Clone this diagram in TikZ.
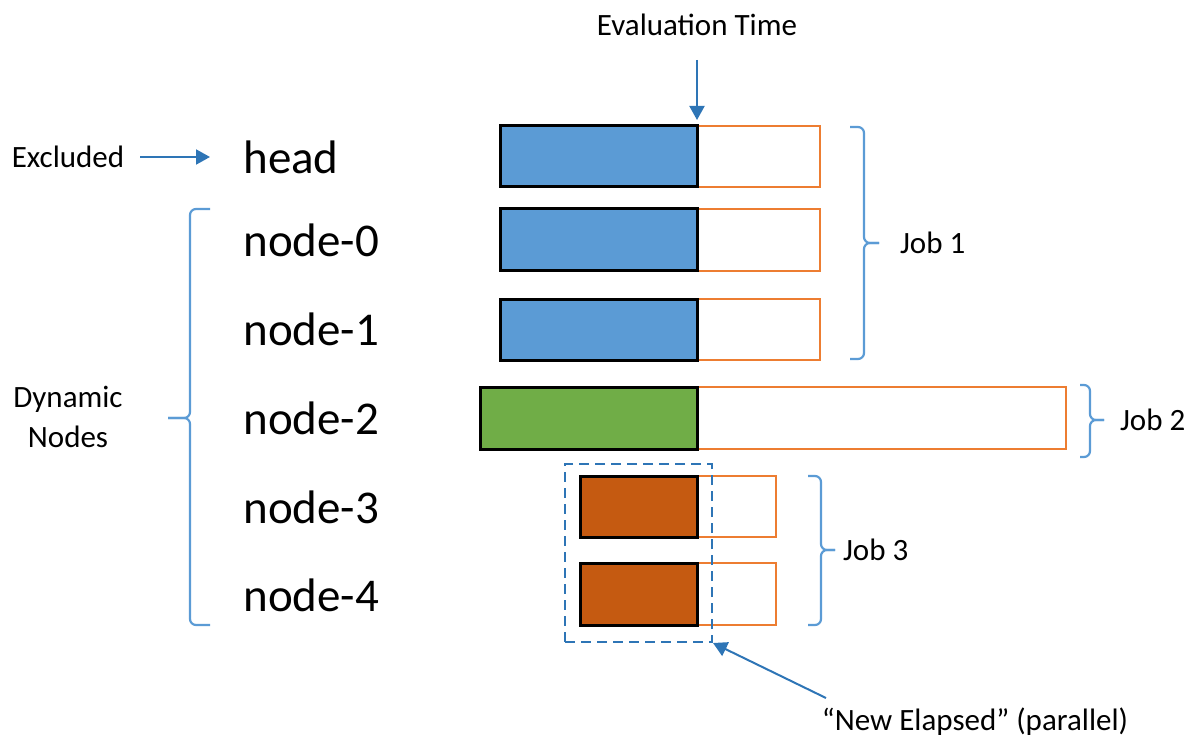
\documentclass[tikz,border=0pt]{standalone}
\usepackage{fontspec}
\setmainfont{Carlito}
\usepackage{tikz}
\usetikzlibrary{%
  arrows.meta,%
  positioning,% wg. " of "
  calc%
}
\definecolor{doneblue}{HTML}{5B9BD5}
\definecolor{donegreen}{HTML}{70AD47}
\definecolor{donebrown}{HTML}{C55A11}
\definecolor{restorange}{HTML}{ED7D31}
\definecolor{ptrblue}{HTML}{2E75B6}
\tikzset{
  done/.style={draw=black, line width=1.5pt},
  rest/.style={draw=restorange, line width=1.2pt},
  hostlabel/.style={font=\fontsize{23.5}{28}\selectfont, anchor=west, inner sep=0pt},
  small/.style={font=\fontsize{15.5}{20}\selectfont},
  ptr/.style={draw=ptrblue, line width=1pt, -{Triangle[length=7pt,width=7.5pt]}},
  bracket/.style={draw=doneblue, line width=1.1pt, rounded corners=3pt}
}

\begin{document}
\begin{tikzpicture}[x=0.5pt, y=-0.5pt]
\useasboundingbox (0,0) rectangle (1188,743);
% host names
\node[hostlabel] (head) at (243,157) {head};
\node[hostlabel] (n0) at (243,240) {node-0};
\node[hostlabel] (n1) at (243,329) {node-1};
\node[hostlabel] (n2) at (243,418) {node-2};
\node[hostlabel] (n3) at (243,507) {node-3};
\node[hostlabel] (n4) at (243,595) {node-4};
% bars: elapsed part | remaining part
\draw[rest] (697,126) rectangle (820,187);
\draw[done, fill=doneblue] (500,126) rectangle (697,187);
\draw[rest] (697,209) rectangle (820,271);
\draw[done, fill=doneblue] (500,209) rectangle (697,271);
\draw[rest] (697,299) rectangle (820,360);
\draw[done, fill=doneblue] (500,299) rectangle (697,360);
\draw[rest] (697,387) rectangle (1066,449);
\draw[done, fill=donegreen] (480,387) rectangle (697,449);
\draw[rest] (697,476) rectangle (776,537);
\draw[done, fill=donebrown] (580,476) rectangle (697,537);
\draw[rest] (697,563) rectangle (776,625);
\draw[done, fill=donebrown] (580,563) rectangle (697,625);
% parallel box
\node[draw=ptrblue, line width=1pt, dash pattern=on 5pt off 3pt,
      minimum width=73.5pt, minimum height=89pt, inner sep=0pt] (par) at (638.5,553) {};
% evaluation time
\node[small] (eval) at (697,25) {Evaluation Time};
\coordinate (evaltip) at (697,120);
\draw[ptr] ($(eval.south)+(0,17)$) -- (evaltip);
% excluded
\node[small] (excl) at (68,157) {Excluded};
\draw[ptr, shorten <=4.5pt, shorten >=16.5pt] (excl.east) -- (head.west);
% dynamic nodes
\node[small, align=center] (dyn) at (68,417) {Dynamic\\Nodes};
\draw[bracket] (210,209) -- (190,209) -- (190,418) -- (168,418);
\draw[bracket] (210,625) -- (190,625) -- (190,418) -- (168,418);
% jobs
\draw[bracket] (850,127) -- (864,127) -- (864,243) -- (879,243);
\draw[bracket] (850,359) -- (864,359) -- (864,243) -- (879,243);
\node[small, anchor=west] (job1) at (893,243) {Job 1};
\draw[bracket] (1080,385) -- (1090,385) -- (1090,420) -- (1104,420);
\draw[bracket] (1080,457) -- (1090,457) -- (1090,420) -- (1104,420);
\node[small, anchor=west] (job2) at (1113,420) {Job 2};
\draw[bracket] (808,476) -- (821,476) -- (821,550) -- (835,550);
\draw[bracket] (808,625) -- (821,625) -- (821,550) -- (835,550);
\node[small, anchor=west] (job3) at (836,550) {Job 3};
% new elapsed
\node[small] (elapsed) at (975,722) {“New Elapsed” (parallel)};
\coordinate (elapsedfrom) at (826,698);
\draw[ptr] (elapsedfrom) -- (par.south east);
\end{tikzpicture}
\end{document}
